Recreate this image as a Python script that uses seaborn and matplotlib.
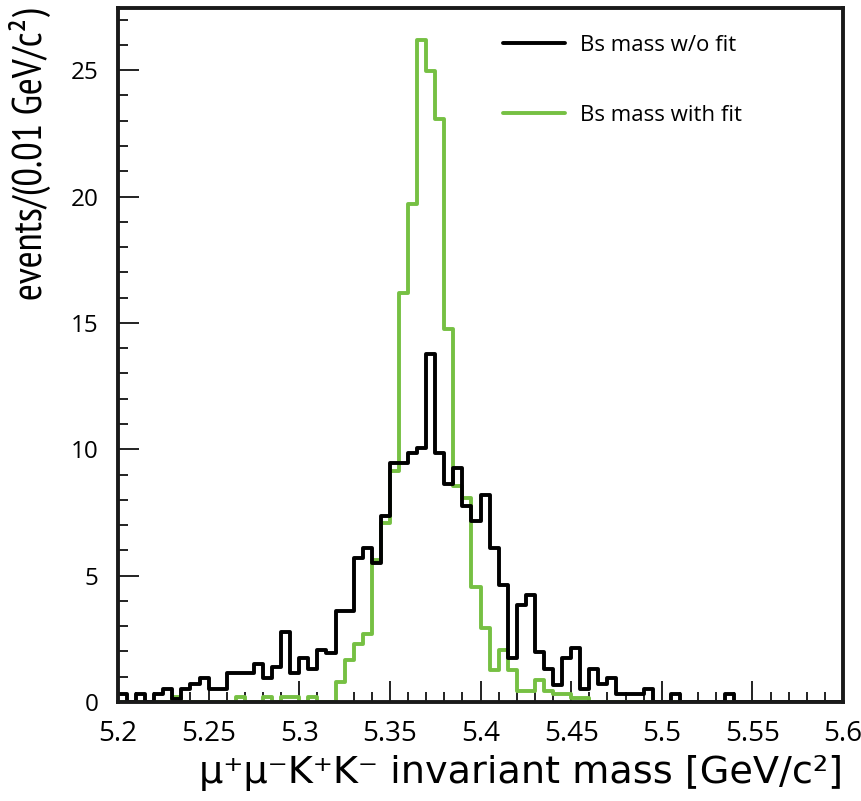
import numpy as np
import pandas as pd
import matplotlib
matplotlib.use("Agg")
import matplotlib.pyplot as plt
from matplotlib.ticker import MultipleLocator
import seaborn as sns

# ---- data (bin contents, 80 bins of 0.005 GeV from 5.2 to 5.6)
mass_lo = 5.2
mass_hi = 5.6
bin_width = 0.005
n_bins = 80

without_fit = [
    0.3, 0.0, 0.3, 0.0, 0.3, 0.5, 0.1, 0.5, 0.73, 0.93,
    0.5, 0.5, 1.13, 1.13, 1.13, 1.52, 0.93, 1.39, 2.78, 1.13,
    1.75, 1.29, 2.05, 1.92, 3.6, 3.6, 5.69, 6.08, 5.49, 7.36,
    9.44, 9.44, 9.84, 10.05, 13.78, 9.84, 8.61, 9.24, 7.77, 7.15,
    8.19, 6.1, 4.63, 1.73, 3.84, 4.23, 1.98, 1.32, 0.67, 1.73,
    2.14, 0.5, 1.32, 0.73, 0.93, 0.33, 0.33, 0.33, 0.5, 0.0,
    0.0, 0.33, 0.0, 0.0, 0.0, 0.0, 0.0, 0.33, 0.0, 0.0,
    0.0, 0.0, 0.0, 0.0, 0.0, 0.0, 0.0, 0.0, 0.0, 0.0,
]
with_fit = [
    0.0, 0.0, 0.0, 0.0, 0.0, 0.0, 0.2, 0.0, 0.0, 0.0,
    0.0, 0.0, 0.0, 0.2, 0.0, 0.0, 0.2, 0.0, 0.2, 0.2,
    0.0, 0.2, 0.0, 0.0, 0.81, 1.65, 2.28, 2.71, 5.62, 7.1,
    9.15, 16.2, 19.7, 26.2, 24.96, 23.08, 14.75, 8.53, 8.07, 4.56,
    2.91, 1.26, 2.05, 1.26, 0.44, 0.44, 0.86, 0.44, 0.3, 0.3,
    0.15, 0.15, 0.0, 0.0, 0.0, 0.0, 0.0, 0.0, 0.0, 0.0,
    0.0, 0.0, 0.0, 0.0, 0.0, 0.0, 0.0, 0.0, 0.0, 0.0,
    0.0, 0.0, 0.0, 0.0, 0.0, 0.0, 0.0, 0.0, 0.0, 0.0,
]
series_names = ["Bs mass w/o fit", "Bs mass with fit"]
x_ticks = [5.2, 5.25, 5.3, 5.35, 5.4, 5.45, 5.5, 5.55, 5.6]
x_tick_labels = ["5.2", "5.25", "5.3", "5.35", "5.4", "5.45", "5.5", "5.55", "5.6"]
y_ticks = [0, 5, 10, 15, 20, 25]

centers = mass_lo + bin_width * (np.arange(n_bins) + 0.5)

df_nofit = pd.DataFrame({"mass": centers, "w": without_fit})
df_fit = pd.DataFrame({"mass": centers, "w": with_fit})

sns.set_style("white")
NARROW = ["PT Sans Narrow", "Roboto Condensed", "Barlow Semi Condensed", "Liberation Sans", "DejaVu Sans"]
REGULAR = ["Open Sans", "DejaVu Sans"]
WIDE = ["DejaVu Sans"]
plt.rcParams["font.family"] = NARROW
plt.rcParams.update({"text.color": "black", "axes.labelcolor": "black",
                     "xtick.color": "black", "ytick.color": "black"})

GREEN = "#76c043"
BLACK = "#000000"

fig = plt.figure(figsize=(8.61, 8.01), dpi=100)
ax = fig.add_axes([118 / 861, 1 - 702 / 801, (843 - 118) / 861, (702 - 8) / 801])

sns.histplot(data=df_fit, x="mass", weights="w", binwidth=bin_width,
             binrange=(mass_lo, mass_hi),
             element="step", fill=False, color=GREEN, linewidth=2.8, ax=ax,
             label=series_names[1])
sns.histplot(data=df_nofit, x="mass", weights="w", binwidth=bin_width,
             binrange=(mass_lo, mass_hi),
             element="step", fill=False, color=BLACK, linewidth=2.8, ax=ax,
             label=series_names[0])

ax.set_xlim(5.2, 5.6)
ax.set_ylim(0, 27.46)

for s in ax.spines.values():
    s.set_linewidth(2.8)
    s.set_color("#1a1a1a")
    s.set_zorder(5)

ax.set_xticks(x_ticks)
ax.set_xticklabels(x_tick_labels)
ax.set_yticks(y_ticks)
ax.xaxis.set_minor_locator(MultipleLocator(0.01))
ax.yaxis.set_minor_locator(MultipleLocator(1))
ax.tick_params(axis="both", which="both", direction="in", color="#111111", width=1.3,
               bottom=True, left=True, top=False, right=False)
ax.tick_params(axis="x", which="major", length=15, labelsize=20, pad=13)
ax.tick_params(axis="x", which="minor", length=7.5)
ax.tick_params(axis="y", which="major", length=15, labelsize=17.5, pad=14)
ax.tick_params(axis="y", which="minor", length=7.5)
for lab in ax.get_yticklabels() + ax.get_xticklabels():
    lab.set_family(REGULAR)

ax.set_xlabel("μ⁺μ⁻K⁺K⁻ invariant mass [GeV/c²]", fontsize=27.5, labelpad=5,
              loc="right", family=WIDE)
ax.set_ylabel("events/(0.01 GeV/c²)", fontsize=29.5, labelpad=14, loc="top")

handles, labels = ax.get_legend_handles_labels()
order = [labels.index(series_names[0]), labels.index(series_names[1])]
leg = ax.legend([handles[i] for i in order], [labels[i] for i in order],
                loc="upper left", bbox_to_anchor=(503 / 861, 1 - 35 / 801),
                bbox_transform=fig.transFigure, frameon=False,
                prop={"family": REGULAR, "size": 16},
                handlelength=2.8, handletextpad=0.68, labelspacing=2.2,
                borderpad=0, borderaxespad=0)
for t in leg.get_texts():
    t.set_color("black")

fig.savefig("out.png", dpi=100)
